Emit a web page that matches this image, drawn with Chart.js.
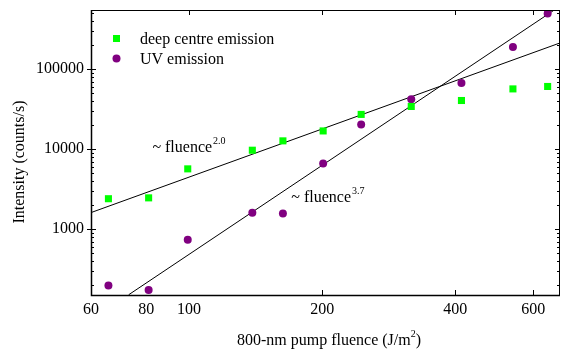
<!DOCTYPE html>
<html>

<head>
    <style>
        body { margin: 0; background: #fff; overflow: hidden; }
    </style>
    <title>Intensity vs pump fluence</title>
</head>

<body>
    <canvas id="canvas" width="565" height="352"></canvas>
    <script src="https://cdn.jsdelivr.net/npm/chart.js@4.4.1/dist/chart.umd.min.js"></script>
    <script type="text/javascript">
        // data
        var fluence = [65.7, 81, 99.3, 139, 163, 201, 245, 318, 413, 540, 647];
        var deepCentre = [2400, 2460, 5670, 9700, 12700, 16900, 27200, 34200, 40600, 56700, 60800];
        var uvEmission = [197, 173, 735, 1600, 1570, 6630, 20400, 42200, 67000, 190000, 497000];

        // power-law fits (~fluence^2.0 and ~fluence^3.7)
        var deepFitX = [60, 690];
        var deepFitY = [1610, 213000];
        var uvFitX = [73, 690];
        var uvFitY = [151, 614000];

        var xTicks = [60, 80, 100, 200, 400, 600];
        var yTicks = [1000, 10000, 100000];
        var topTicks = [100, 200, 400, 600];
        var bottomTicks = [200, 400, 600];

        var notes = [
            { x: 82.6, y: 9170, text: '~ fluence', exp: '2.0' },
            { x: 170.3, y: 2190, text: '~ fluence', exp: '3.7' }
        ];

        var FONT = '"Liberation Serif", "Times New Roman", serif';

        function pts(xs, ys) {
            return xs.map(function(x, i) { return { x: x, y: ys[i] }; });
        }

        var decorations = {
            id: 'decorations',
            afterDraw: function(chart) {
                var ctx = chart.ctx;
                var a = chart.chartArea;
                var xs = chart.scales.x, ys = chart.scales.y;
                ctx.save();
                ctx.strokeStyle = '#000';
                ctx.lineWidth = 1;

                // frame
                ctx.strokeRect(Math.round(a.left) + 0.5, Math.round(a.top) + 0.5,
                    Math.round(a.right - a.left) - 1, Math.round(a.bottom - a.top));
                ctx.lineWidth = 1.5;
                ctx.beginPath();
                ctx.moveTo(a.left + 0.5, a.top);
                ctx.lineTo(a.left + 0.5, a.bottom + 0.5);
                ctx.lineTo(a.right, a.bottom + 0.5);
                ctx.stroke();
                ctx.lineWidth = 1;

                // y ticks, left and right
                ctx.beginPath();
                for (var k = 2; k <= 5; k++) {
                    for (var m = 1; m <= 9; m++) {
                        var v = m * Math.pow(10, k);
                        if (v < ys.min || v > ys.max) continue;
                        var py = Math.round(ys.getPixelForValue(v)) + 0.5;
                        if (m === 1) {
                            ctx.moveTo(a.left - 4, py); ctx.lineTo(a.left + 5, py);
                            ctx.moveTo(a.right, py); ctx.lineTo(a.right - 5, py);
                        } else {
                            ctx.moveTo(a.left, py); ctx.lineTo(a.left + 3, py);
                            ctx.moveTo(a.right, py); ctx.lineTo(a.right - 3, py);
                        }
                    }
                }
                topTicks.forEach(function(v) {
                    var px = Math.round(xs.getPixelForValue(v)) + 0.5;
                    ctx.moveTo(px, a.top); ctx.lineTo(px, a.top + 5);
                });
                bottomTicks.forEach(function(v) {
                    var px = Math.round(xs.getPixelForValue(v)) + 0.5;
                    ctx.moveTo(px, a.bottom); ctx.lineTo(px, a.bottom - 5);
                });
                ctx.stroke();

                ctx.fillStyle = '#000';
                ctx.textBaseline = 'alphabetic';

                // annotations
                notes.forEach(function(n) {
                    var px = xs.getPixelForValue(n.x);
                    var py = ys.getPixelForValue(n.y);
                    ctx.font = '16px ' + FONT;
                    ctx.textAlign = 'left';
                    ctx.fillText(n.text, px, py);
                    var w = ctx.measureText(n.text).width;
                    ctx.font = '10px ' + FONT;
                    ctx.fillText(n.exp, px + w + 1, py - 8);
                });

                // legend
                ctx.fillStyle = '#00ff00';
                ctx.fillRect(113, 35, 7, 7);
                ctx.fillStyle = '#800080';
                ctx.beginPath();
                ctx.arc(116.5, 58.5, 4, 0, Math.PI * 2);
                ctx.fill();
                ctx.fillStyle = '#000';
                ctx.font = '16px ' + FONT;
                ctx.fillText('deep centre emission', 140, 44);
                ctx.fillText('UV emission', 140, 64);

                // axis titles
                ctx.textAlign = 'center';
                ctx.save();
                ctx.translate(24, 162);
                ctx.rotate(-Math.PI / 2);
                ctx.fillText('Intensity (counts/s)', 0, 0);
                ctx.restore();

                var t1 = '800-nm pump fluence (J/m', t2 = ')';
                var w1 = ctx.measureText(t1).width;
                ctx.font = '10px ' + FONT;
                var ws = ctx.measureText('2').width;
                ctx.font = '16px ' + FONT;
                var w2 = ctx.measureText(t2).width;
                var x0 = 329 - (w1 + ws + w2) / 2;
                ctx.textAlign = 'left';
                ctx.fillText(t1, x0, 345);
                ctx.font = '10px ' + FONT;
                ctx.fillText('2', x0 + w1, 337);
                ctx.font = '16px ' + FONT;
                ctx.fillText(t2, x0 + w1 + ws, 345);
                ctx.restore();
            }
        };

        window.onload = function() {
            var ctx = document.getElementById('canvas').getContext('2d');
            window.myChart = new Chart(ctx, {
                type: 'scatter',
                data: {
                    datasets: [{
                        label: 'deep centre emission',
                        data: pts(fluence, deepCentre),
                        pointStyle: 'rect',
                        pointRadius: 5,
                        pointBorderWidth: 0,
                        backgroundColor: '#00ff00',
                        borderColor: '#00ff00'
                    }, {
                        label: 'UV emission',
                        data: pts(fluence, uvEmission),
                        pointStyle: 'circle',
                        pointRadius: 4,
                        pointBorderWidth: 0,
                        backgroundColor: '#800080',
                        borderColor: '#800080'
                    }, {
                        label: 'fit 2.0',
                        data: pts(deepFitX, deepFitY),
                        showLine: true,
                        pointRadius: 0,
                        borderColor: '#000',
                        borderWidth: 1
                    }, {
                        label: 'fit 3.7',
                        data: pts(uvFitX, uvFitY),
                        showLine: true,
                        pointRadius: 0,
                        borderColor: '#000',
                        borderWidth: 1
                    }]
                },
                options: {
                    responsive: false,
                    animation: false,
                    layout: { padding: { top: 10, right: 1, left: 0, bottom: 0 } },
                    plugins: {
                        legend: { display: false },
                        tooltip: { enabled: false }
                    },
                    scales: {
                        x: {
                            type: 'logarithmic',
                            min: 60,
                            max: 690,
                            grid: { display: false, drawTicks: false },
                            border: { display: false },
                            afterBuildTicks: function(s) {
                                s.ticks = xTicks.map(function(v) { return { value: v }; });
                            },
                            afterFit: function(s) {
                                s.height = 57;
                                s.paddingLeft = 0;
                                s.paddingRight = 0;
                            },
                            ticks: {
                                autoSkip: false,
                                maxRotation: 0,
                                padding: 5,
                                color: '#000',
                                font: { family: FONT, size: 16 },
                                callback: function(v) { return String(v); }
                            }
                        },
                        y: {
                            type: 'logarithmic',
                            min: 150,
                            max: 550000,
                            grid: { display: false, drawTicks: false },
                            border: { display: false },
                            afterBuildTicks: function(s) {
                                s.ticks = yTicks.map(function(v) { return { value: v }; });
                            },
                            afterFit: function(s) {
                                s.width = 91;
                                s.paddingTop = 0;
                                s.paddingBottom = 0;
                            },
                            ticks: {
                                padding: 7,
                                color: '#000',
                                font: { family: FONT, size: 16 },
                                callback: function(v) { return String(v); }
                            }
                        }
                    }
                },
                plugins: [decorations]
            });
        };
    </script>
</body>

</html>
